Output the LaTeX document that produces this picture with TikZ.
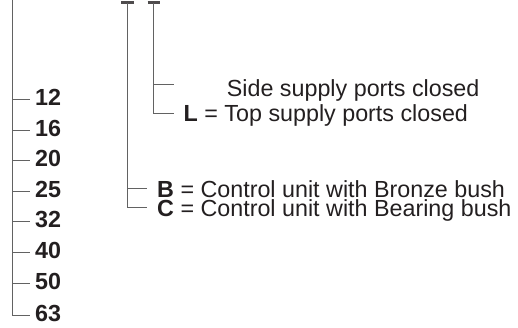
\documentclass[tikz,border=0pt]{standalone}
\usepackage{fontspec}
\setmainfont{Liberation Sans}
\definecolor{txt}{HTML}{231F20}
\definecolor{ln}{HTML}{626262}
\begin{document}
\begin{tikzpicture}[x=1pt,y=-1pt,
  lbl/.style={anchor=base west,inner sep=0pt,text=txt,font=\fontsize{23.3}{27}\selectfont},
  num/.style={lbl,font=\fontsize{23.3}{27}\selectfont\bfseries},
  tree/.style={draw=ln,line width=0.9pt},
  tbar/.style={draw=txt!80,line width=2.4pt}]
\useasboundingbox (0,0) rectangle (518,327);
% left size branch
\coordinate (stemtop) at (12,0);
\coordinate (stembot) at (12,315);
\draw[tree] (stemtop) -- (stembot);
\foreach \v/\y in {12/99,16/130,20/160,25/191,32/221,40/252,50/283,63/315}{
  \coordinate (s\v) at (12,\y);
  \coordinate (e\v) at (30,\y);
  \draw[tree] (s\v) -- (e\v);
  \node[num] (n\v) at (35,\y+6.7) {\v};
}
% control unit branch
\coordinate (t1a) at (121,2.5);
\coordinate (t1b) at (133.5,2.5);
\coordinate (t1) at (127,2.5);
\coordinate (t1B) at (127,188.5);
\coordinate (t1C) at (127,207.5);
\coordinate (t1Be) at (147,188.5);
\coordinate (t1Ce) at (147,207.5);
\draw[tbar] (t1a) -- (t1b);
\draw[tree] (t1) -- (t1C) -- (t1Ce);
\draw[tree] (t1B) -- (t1Be);
\node[lbl] (B) at (157,197) {\textbf{B} = Control unit with Bronze bush};
\node[lbl] (C) at (157,216.5) {\textbf{C} = Control unit with Bearing bush};
% supply ports branch
\coordinate (t2a) at (147.5,2.5);
\coordinate (t2b) at (160,2.5);
\coordinate (t2) at (153.5,2.5);
\coordinate (t2S) at (153.5,84);
\coordinate (t2L) at (153.5,113);
\coordinate (t2Se) at (174,84);
\coordinate (t2Le) at (174,113);
\draw[tbar] (t2a) -- (t2b);
\draw[tree] (t2) -- (t2L) -- (t2Le);
\draw[tree] (t2S) -- (t2Se);
\node[lbl] (S) at (226.7,96) {Side supply ports closed};
\node[lbl] (L) at (183.5,121.2) {\textbf{L} = Top supply ports closed};
\end{tikzpicture}
\end{document}
